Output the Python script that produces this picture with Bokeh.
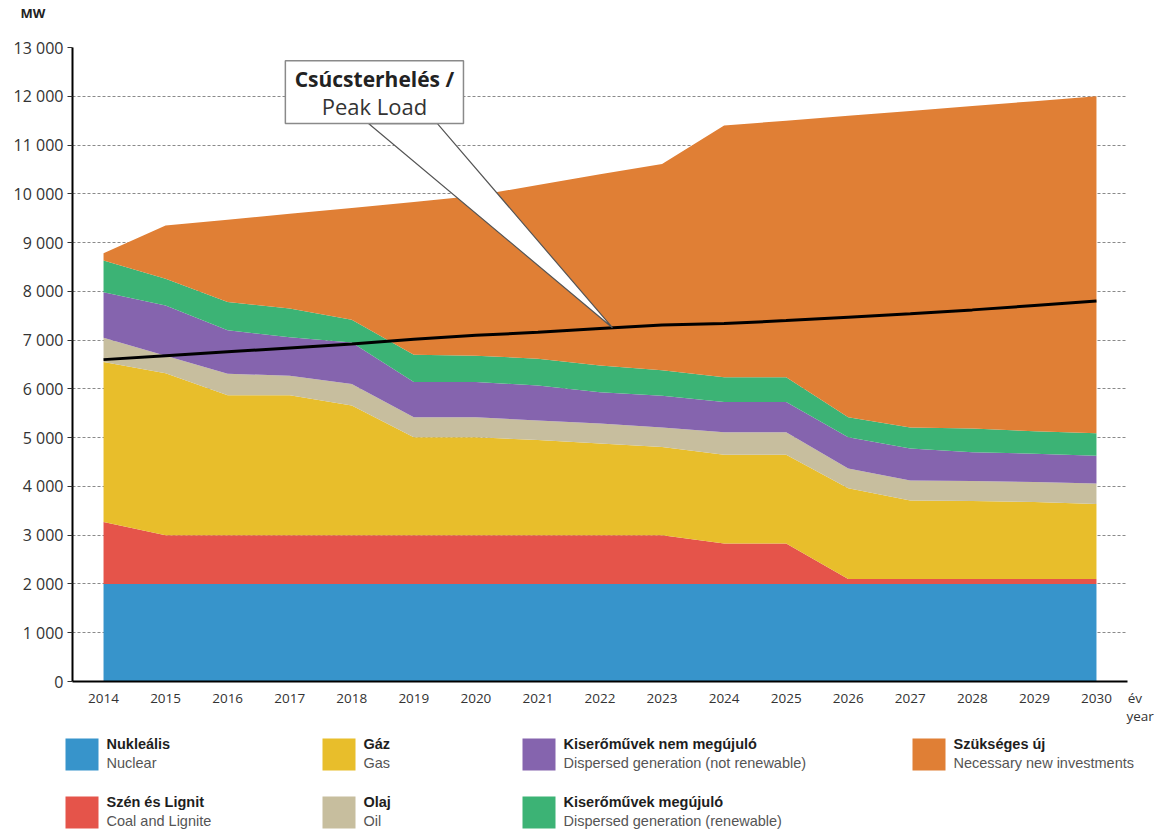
from bokeh.plotting import figure
from bokeh.models import ColumnDataSource, FixedTicker, Label, Range1d
from bokeh.embed import file_html
from bokeh.resources import INLINE
from bokeh.core.properties import value
import numpy as np

# ---------------- data ----------------
years = list(range(2014, 2031))
nuclear = [2000] * 17
coal = [1270, 1000, 1000, 1000, 1000, 1000, 1000, 1000, 1000, 1000, 830, 830, 100, 100, 100, 100, 100]
gas = [3280, 3320, 2870, 2870, 2660, 2010, 2010, 1950, 1880, 1810, 1820, 1820, 1860, 1610, 1600, 1580, 1540]
oil = [500, 360, 440, 400, 440, 410, 410, 400, 410, 400, 460, 460, 410, 410, 410, 410, 420]
dispersed_nonren = [930, 1030, 890, 790, 850, 720, 720, 720, 640, 650, 620, 620, 640, 660, 590, 580, 570]
dispersed_ren = [650, 550, 580, 590, 470, 560, 540, 550, 550, 520, 510, 510, 410, 430, 490, 460, 460]
new_invest = [150, 1090, 1690, 1940, 2290, 3130, 3280, 3560, 3920, 4230, 5160, 5260, 6180, 6490, 6610, 6770, 6910]
peak_load = [6600, 6680, 6760, 6840, 6920, 7020, 7100, 7160, 7240, 7310, 7340, 7400, 7470, 7540, 7620, 7710, 7800]

series_keys = ["nuclear", "coal", "gas", "oil", "dispersed_nonren", "dispersed_ren", "new_invest"]
series_colors = ["#3794CB", "#E5544A", "#E8BE2B", "#C7BE9E", "#8564AE", "#3CB375", "#E07F35"]
names_hu = ["Nukleális", "Szén és Lignit", "Gáz", "Olaj",
            "Kiserőművek nem megújuló", "Kiserőművek megújuló", "Szükséges új"]
names_en = ["Nuclear", "Coal and Lignite", "Gas", "Oil",
            "Dispersed generation (not renewable)", "Dispersed generation (renewable)",
            "Necessary new investments"]

y_ticks = list(range(0, 13001, 1000))
y_tick_labels = {v: f"{v:,}".replace(",", " ") for v in y_ticks}
x_unit_hu, x_unit_en = "év", "year"
y_unit = "MW"
callout_title = "Csúcsterhelés /"
callout_sub = "Peak Load"

# ---------------- header strip with the unit "MW" ----------------
hdr = figure(width=1165, height=30, x_range=Range1d(0, 1165), y_range=Range1d(30, 0),
             output_backend="svg", toolbar_location=None, x_axis_type=None, y_axis_type=None,
             min_border=0)
hdr.outline_line_color = None
hdr.grid.grid_line_color = None
hdr.text(x=[20], y=[12], text=[y_unit], text_font=value("Open Sans"), text_font_style="bold",
         text_font_size="13px", text_color="#222222", text_baseline="middle", text_align="left")

# ---------------- main chart ----------------
tick_font = "Open Sans"
p = figure(width=1165, height=701, x_range=Range1d(2013.5, 2030.5), y_range=Range1d(0, 13000),
           output_backend="svg", toolbar_location=None,
           min_border_left=72, min_border_right=38, min_border_top=17, min_border_bottom=50)
p.outline_line_color = None
p.background_fill_color = "white"

src = ColumnDataSource(dict(x=years, nuclear=nuclear, coal=coal, gas=gas, oil=oil,
                            dispersed_nonren=dispersed_nonren, dispersed_ren=dispersed_ren,
                            new_invest=new_invest))
p.varea_stack(stackers=series_keys, x="x", color=series_colors, source=src)

p.line(years, peak_load, color="black", line_width=3)

# x axis (the unit "év / year" sits at the right end of the axis)
unit_tick = 2030.45
x_overrides = {unit_tick: "\u00a0" * 6 + x_unit_hu + "\n" + "\u00a0" * 9 + x_unit_en}
p.xaxis.ticker = FixedTicker(ticks=years + [unit_tick])
p.xaxis.major_label_overrides = x_overrides
p.xaxis.major_tick_out = 0
p.xaxis.major_tick_in = 0
p.xaxis.minor_tick_line_color = None
p.xaxis.axis_line_color = "black"
p.xaxis.axis_line_width = 2
p.xaxis.major_label_text_font = tick_font
p.xaxis.major_label_text_font_size = "13.5px"
p.xaxis.major_label_text_line_height = 1.0
p.xaxis.major_label_text_color = "#333333"
p.xaxis.major_label_standoff = 7

p.yaxis.ticker = FixedTicker(ticks=y_ticks)
p.yaxis.major_label_overrides = y_tick_labels
p.yaxis.major_tick_out = 5
p.yaxis.major_tick_in = 0
p.yaxis.major_tick_line_color = "#333333"
p.yaxis.minor_tick_line_color = None
p.yaxis.axis_line_color = "black"
p.yaxis.axis_line_width = 2
p.yaxis.major_label_text_font = tick_font
p.yaxis.major_label_text_font_size = "16px"
p.yaxis.major_label_text_color = "#333333"
p.yaxis.major_label_standoff = 4

p.xgrid.grid_line_color = None
p.ygrid.ticker = FixedTicker(ticks=y_ticks[1:])
p.ygrid.grid_line_color = "#8a8a8a"
p.ygrid.grid_line_dash = "3 2"
p.ygrid.grid_line_width = 1

# callout (annotation placement)
tip_year = 2022.2
tip_y = float(np.interp(tip_year, years, peak_load))
box_l, box_r, box_b, box_t = 2016.93, 2019.80, 11440, 12730
base_l, base_r = 2018.27, 2019.38
p.patch([base_l, tip_year, base_r], [box_b, tip_y, box_b], fill_color="white",
        line_color="#555555", line_width=1.2)
p.quad(left=[box_l], right=[box_r], bottom=[box_b], top=[box_t], fill_color="white",
       line_color="#8a8a8a", line_width=1.5)
cx = (box_l + box_r) / 2
p.add_layout(Label(x=cx, y=12360, text=callout_title, text_align="center", text_baseline="middle",
                   text_font="Open Sans", text_font_style="bold", text_font_size="21px",
                   text_color="#222222"))
p.add_layout(Label(x=cx, y=11810, text=callout_sub, text_align="center", text_baseline="middle",
                   text_font="Open Sans", text_font_size="22px", text_color="#333333"))

# ---------------- legend (separate root, pixel coordinates) ----------------
lg = figure(width=1165, height=105, x_range=Range1d(0, 1165), y_range=Range1d(105, 0),
            output_backend="svg", toolbar_location=None, x_axis_type=None, y_axis_type=None,
            min_border=0)
lg.outline_line_color = None
lg.grid.grid_line_color = None

col_x = [65, 322, 522, 912]
row_y = [7, 65]
legend_order = [(0, 0, 0), (1, 0, 1), (2, 1, 0), (3, 1, 1), (4, 2, 0), (5, 2, 1), (6, 3, 0)]
sw_l, sw_r, sw_t, sw_b, sw_c = [], [], [], [], []
tx, ty_hu, ty_en, t_hu, t_en = [], [], [], [], []
for idx, c, r in legend_order:
    sw_l.append(col_x[c]); sw_r.append(col_x[c] + 33)
    sw_t.append(row_y[r]); sw_b.append(row_y[r] + 32)
    sw_c.append(series_colors[idx])
    tx.append(col_x[c] + 41)
    ty_hu.append(row_y[r] + 5); ty_en.append(row_y[r] + 24)
    t_hu.append(names_hu[idx]); t_en.append(names_en[idx])

lg.quad(left=sw_l, right=sw_r, top=sw_t, bottom=sw_b, fill_color=sw_c, line_color=None)
lg.text(x=tx, y=ty_hu, text=t_hu, text_font=value("Liberation Sans"), text_font_style="bold",
        text_font_size="14.5px", text_color="#1e1e1e", text_baseline="middle", text_align="left")
lg.text(x=tx, y=ty_en, text=t_en, text_font=value("Liberation Sans"),
        text_font_size="14.5px", text_color="#555555", text_baseline="middle", text_align="left")

open("out.html", "w").write(file_html([hdr, p, lg], INLINE))
